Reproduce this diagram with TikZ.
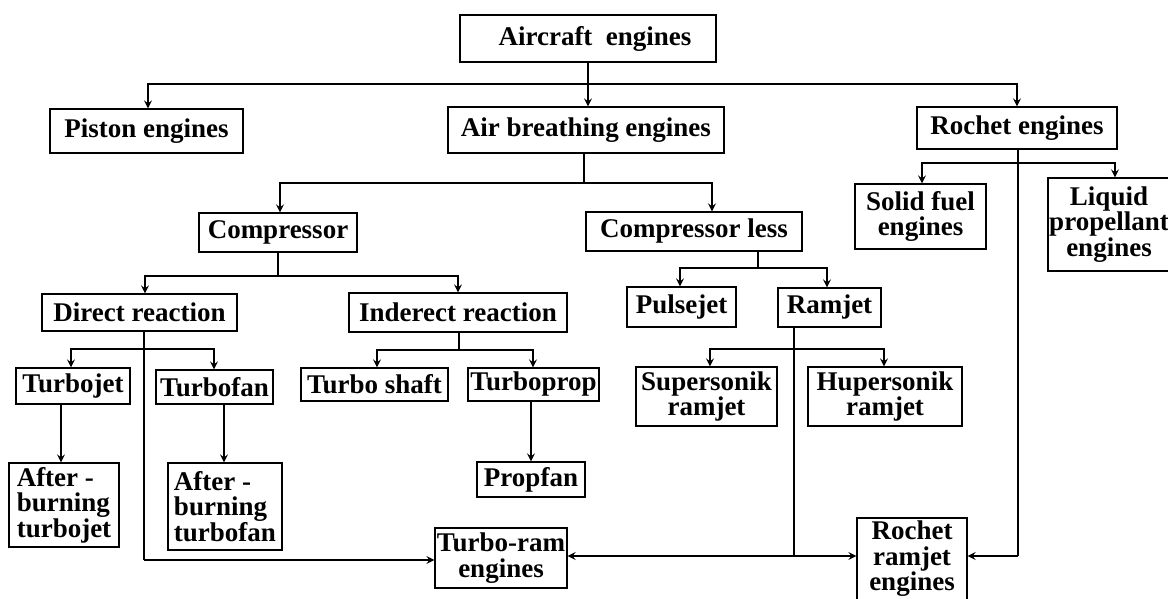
\documentclass[tikz,border=0pt]{standalone}
\usepackage{fontspec}
\setmainfont{Liberation Serif}
\usetikzlibrary{arrows.meta}

\begin{document}
\begin{tikzpicture}[x=1pt,y=-1pt]
		\tikzstyle{every node}=[font=\bfseries\fontsize{27pt}{25.5pt}\selectfont]
		\tikzstyle{box}=[draw, line width=1.3pt, inner sep=0pt, align=center]
		\tikzstyle{arr}=[line width=1.3pt, -{Stealth[length=8pt,width=8pt,inset=3pt]}]
		
		\useasboundingbox (0,0) rectangle (1168,599);
		
		% boxes
		\node[box, minimum width=256, minimum height=47] (air) at (588,38.5) {\hspace*{14pt}Aircraft~ engines};
		\node[box, minimum width=193, minimum height=44] (piston) at (146.5,131) {Piston engines};
		\node[box, minimum width=276, minimum height=46] (airbr) at (586,130) {Air breathing engines};
		\node[box, minimum width=200, minimum height=42] (rocket) at (1017,128) {Rochet engines};
		\node[box, minimum width=158, minimum height=39] (compr) at (278,232.5) {Compressor};
		\node[box, minimum width=216, minimum height=39] (compless) at (694,231.5) {Compressor less};
		\node[box, minimum width=131, minimum height=65] (solid) at (920.5,216.5) {Solid fuel\\engines};
		\node[box, minimum width=122, minimum height=93] (liquid) at (1109,224.5) {Liquid\\propellant\\engines};
		\node[box, minimum width=195, minimum height=37] (direct) at (139.5,312.5) {Direct reaction};
		\node[box, minimum width=218, minimum height=39] (indirect) at (458,312.5) {Inderect reaction};
		\node[box, minimum width=109, minimum height=40] (pulse) at (681.5,307) {Pulsejet};
		\node[box, minimum width=103, minimum height=39] (ramjet) at (829.5,307.5) {Ramjet};
		\node[box, minimum width=114, minimum height=36] (turbojet) at (73,386) {Turbojet};
		\node[box, minimum width=117, minimum height=34] (turbofan) at (214.5,387) {Turbofan};
		\node[box, minimum width=147, minimum height=33] (shaft) at (374.5,384.5) {Turbo shaft};
		\node[box, minimum width=131, minimum height=33] (turboprop) at (533.5,384.5) {Turboprop};
		\node[box, minimum width=141, minimum height=59] (supersonic) at (706.5,396.5) {Supersonik\\ramjet};
		\node[box, minimum width=154, minimum height=59] (hypersonic) at (885,396.5) {Hupersonik\\ramjet};
		\node[box, minimum width=110, minimum height=84, align=left] (abturbojet) at (64,505) {After -\\burning\\turbojet};
		\node[box, minimum width=114, minimum height=87, align=left] (abturbofan) at (225,506.5) {After -\\burning\\turbofan};
		\node[box, minimum width=108, minimum height=35] (propfan) at (531,479.5) {Propfan};
		\node[box, minimum width=132, minimum height=60] (turboram) at (501,558) {Turbo-ram\\engines};
		\node[box, minimum width=110, minimum height=82] (rocketram) at (912,559) {Rochet\\ramjet\\engines};
		
		% junctions
		\coordinate (ja) at (588,84);
		\coordinate (jb) at (584,183);
		\coordinate (jc) at (278,276);
		\coordinate (jd) at (758,268);
		\coordinate (jr) at (1018,163);
		\coordinate (jr2) at (1018,556);
		\coordinate (je) at (144,349);
		\coordinate (je2) at (144,560);
		\coordinate (jf) at (459,350);
		\coordinate (jg) at (794,349);
		\coordinate (jg2) at (794,556);
		
		\draw[line width=1.3pt] (air.south) -- (ja);
		\draw[arr] (ja) -| ([xshift=1.5pt]piston.north);
		\draw[arr] (ja) -- (airbr.north -| ja);
		\draw[arr] (ja) -| (rocket.north);
		
		\draw[line width=1.3pt] (airbr.south -| jb) -- (jb);
		\draw[arr] (jb) -| ([xshift=2pt]compr.north);
		\draw[arr] (jb) -| ([xshift=18pt]compless.north);
		
		\draw[line width=1.3pt] (compr.south) -- (jc);
		\draw[arr] (jc) -| ([xshift=5.5pt]direct.north);
		\draw[arr] (jc) -| (indirect.north);
		
		\draw[line width=1.3pt] (compless.south -| jd) -- (jd);
		\draw[arr] (jd) -| ([xshift=-1.5pt]pulse.north);
		\draw[arr] (jd) -| ([xshift=-2.5pt]ramjet.north);
		
		\draw[line width=1.3pt] (rocket.south -| jr) -- (jr2);
		\draw[arr] (jr) -| ([xshift=1.5pt]solid.north);
		\draw[arr] (jr) -| ([xshift=6pt]liquid.north);
		\draw[arr] (jr2) -- (rocketram.east |- jr2);
		
		\draw[line width=1.3pt] (direct.south -| je) -- (je2);
		\draw[arr] (je2) -- (turboram.west |- je2);
		\draw[arr] (je) -| ([xshift=-2pt]turbojet.north);
		\draw[arr] (je) -| ([xshift=-0.5pt]turbofan.north);
		
		\draw[line width=1.3pt] (indirect.south -| jf) -- (jf);
		\draw[arr] (jf) -| ([xshift=2.5pt]shaft.north);
		\draw[arr] (jf) -| ([xshift=-0.5pt]turboprop.north);
		
		\draw[line width=1.3pt] (ramjet.south -| jg) -- (jg2);
		\draw[arr] (jg) -| ([xshift=3.5pt]supersonic.north);
		\draw[arr] (jg) -| ([xshift=-1pt]hypersonic.north);
		\draw[arr] (jg2) -- (turboram.east |- jg2);
		\draw[arr] (jg2) -- (rocketram.west |- jg2);
		
		\draw[arr] ([xshift=-12pt]turbojet.south) -- ([xshift=-12pt]turbojet.south |- abturbojet.north);
		\draw[arr] ([xshift=9.5pt]turbofan.south) -- ([xshift=9.5pt]turbofan.south |- abturbofan.north);
		\draw[arr] ([xshift=-2.5pt]turboprop.south) -- ([xshift=-2.5pt]turboprop.south |- propfan.north);
		
	\end{tikzpicture}
\end{document}
